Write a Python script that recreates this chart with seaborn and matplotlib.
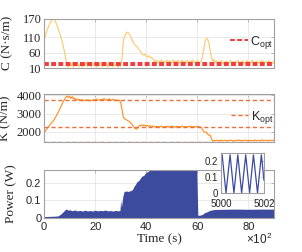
import numpy as np
import pandas as pd
import matplotlib
matplotlib.use("Agg")
import matplotlib.pyplot as plt
import seaborn as sns

# -----------------------------
# Data (time in units of 1e2 s)
# -----------------------------
# damping C, one sample every 0.5 (x1e2 s) from 0 to 90
c_values = [
    102, 112, 128, 140, 150, 158, 165, 169, 167, 160, 150, 138, 125, 112, 98, 82, 62, 40, 18,
    14, 26, 16, 28, 13, 24, 18, 29, 14, 22, 27, 13, 25, 17, 30, 15, 23, 28, 14, 26,
    19, 29, 13, 24, 16, 27, 21, 14, 28, 17, 25, 13, 29, 18, 23, 14, 27, 16, 24, 13, 26, 15,
    40, 95, 112, 120, 126, 124, 118, 110, 100, 92, 86, 82, 79, 72, 66, 60, 56, 52, 55, 48,
    46, 50, 44, 45, 40, 36,
    30, 36, 26, 33, 28, 37, 25, 32, 29, 36, 24, 34, 30, 27, 37, 26, 33, 29, 35, 25,
    31, 36, 27, 33, 24, 35, 29, 32, 26, 37, 28, 31, 25, 34, 30, 27, 32,
    45, 70, 95, 106, 104, 92, 70, 45, 32, 38, 28,
    34, 24, 31, 27, 35, 23, 30, 26, 33, 22, 29, 34, 25, 31, 23, 32, 28, 35, 24, 30,
    26, 33, 22, 29, 34, 25, 31, 27, 36, 23, 30, 26, 33, 24, 32, 28, 35, 23, 29, 31,
    25, 34, 27, 30, 24, 32,
]
c_opt = [27, 19]

# stiffness K, same sampling
k_values = [
    1960, 2050, 2150, 2250, 2330, 2420, 2500, 2580, 2680, 2800, 2930, 3060, 3200, 3360,
    3500, 3640, 3780, 3880, 3960,
    3880, 3950, 3820, 3930, 3790, 3850, 3740, 3800, 3720, 3780,
    3700, 3760, 3730, 3690, 3770, 3720, 3750, 3680, 3740, 3710,
    3770, 3730, 3800, 3720, 3760, 3740, 3790, 3750, 3820, 3730,
    3780, 3740, 3810, 3760, 3720, 3790, 3740, 3700, 3760, 3690,
    3740, 3600,
    3250, 2820, 2710, 2670, 2640, 2600, 2560, 2480, 2400, 2300,
    2200, 2150, 2180, 2290, 2360, 2330, 2390, 2340, 2370, 2310,
    2350, 2300, 2340, 2290, 2330, 2300,
    2270, 2310, 2260, 2300, 2280, 2320, 2250, 2290, 2270, 2310,
    2260, 2300, 2280, 2330, 2270, 2290, 2250, 2310, 2280, 2300,
    2260, 2320, 2290, 2270, 2310, 2250, 2300, 2280, 2320, 2270,
    2290, 2260, 2310, 2280, 2300, 2270, 2250,
    2150, 2010, 1980, 1990, 1900, 1820, 1830, 1650, 1500, 1540, 1520,
    1550, 1510, 1540, 1520, 1560, 1500, 1530, 1550, 1510, 1540,
    1520, 1560, 1530, 1500, 1540, 1520, 1550, 1510, 1570, 1530,
    1510, 1540, 1520, 1560, 1530, 1500, 1550, 1520, 1540, 1510,
    1560, 1530, 1520, 1550, 1510, 1540, 1570, 1520, 1530, 1550,
    1510, 1540, 1560, 1520, 1550, 1530,
]
k_opt = [3760, 2270, 1470]

# power envelope (peaks of the fast oscillation)
power_time = [0, 2, 4, 5.5, 6.5, 7.5, 8.3, 8.8, 9.3, 10, 11, 12, 13, 14, 15, 16, 17, 18,
              19, 20, 21, 22, 23, 24, 25, 26, 27, 28, 29, 29.7, 30.0, 30.3, 30.8, 31.3,
              32, 33, 34, 34.6, 35.2, 35.8, 36.4, 37, 37.6, 38.2, 39, 39.8, 40.6, 41.5,
              45, 50, 55, 59.8, 60.2, 61, 62, 62.8, 63.5, 64.5, 65.5, 67, 70, 75, 80, 85, 90]
power_peak = [0.008, 0.009, 0.010, 0.012, 0.022, 0.035, 0.048, 0.050, 0.044, 0.046, 0.041,
              0.045, 0.040, 0.043, 0.039, 0.044, 0.040, 0.042, 0.039, 0.044, 0.040, 0.043,
              0.041, 0.045, 0.040, 0.042, 0.039, 0.043, 0.040, 0.042, 0.100, 0.060, 0.120,
              0.148, 0.152, 0.150, 0.155, 0.160, 0.178, 0.190, 0.205, 0.210, 0.222, 0.235,
              0.240, 0.255, 0.262, 0.270, 0.270, 0.270, 0.270, 0.270, 0.015, 0.016, 0.020,
              0.030, 0.033, 0.040, 0.045, 0.048, 0.049, 0.050, 0.049, 0.050, 0.050]

# zoomed power trace (s)
inset_time = [5000.0, 5000.05, 5000.23, 5000.42, 5000.60, 5000.78, 5000.96, 5001.15,
              5001.33, 5001.51, 5001.70, 5001.88, 5002.0]
inset_power = [0.19, 0.24, 0.0, 0.24, 0.0, 0.24, 0.0, 0.24, 0.0, 0.24, 0.0, 0.24, 0.08]

x_ticks = [0, 20, 40, 60, 80]

# -----------------------------
# Style
# -----------------------------
sns.set_theme(style="white")
plt.rcParams['font.family'] = ['Liberation Serif', 'DejaVu Serif']
plt.rcParams['mathtext.fontset'] = 'custom'
plt.rcParams['mathtext.rm'] = 'Liberation Sans'
plt.rcParams['mathtext.it'] = 'Liberation Sans:italic'

spine_c = '#a0a0a0'
grid_c = '#e6e6e6'
c_color = '#ffc766'
copt_color = '#f03a3a'
k_color = '#ff8c1a'
kopt_color = '#ee6e3e'
p_color = '#3c4b9e'

df_c = pd.DataFrame({'t': 0.5 * np.arange(len(c_values)), 'C': c_values})
df_k = pd.DataFrame({'t': 0.5 * np.arange(len(k_values)), 'K': k_values})
df_in = pd.DataFrame({'t': inset_time, 'P': inset_power})

fig = plt.figure(figsize=(3.02, 2.52), dpi=100)
ax1 = fig.add_axes([0.146, 0.730, 0.761, 0.196])
ax2 = fig.add_axes([0.146, 0.435, 0.761, 0.191])
ax3 = fig.add_axes([0.146, 0.135, 0.761, 0.190])


def style_axes(ax):
    for s in ax.spines.values():
        s.set_color(spine_c)
        s.set_linewidth(0.8)
        s.set_visible(True)
    ax.grid(True, color=grid_c, linewidth=0.6)
    ax.set_axisbelow(True)
    ax.tick_params(direction='in', length=2, width=0.5, color=spine_c,
                   top=True, right=True, pad=2)
    ax.set_xlim(0, 90)
    ax.set_xticks(x_ticks)


# -----------------------------
# C panel
# -----------------------------
style_axes(ax1)
sns.lineplot(data=df_c, x='t', y='C', ax=ax1, color=c_color, linewidth=0.8)
for i, v in enumerate(c_opt):
    ax1.axhline(v, color=copt_color, linestyle=(0, (2.5, 1.2)), linewidth=1.4,
                label='C$_{\\rm opt}$' if i == 0 else None)
ax1.set_ylim(10, 170)
ax1.set_yticks([10, 60, 110, 170])
ax1.set_xticklabels([])
ax1.set_xlabel('')
ax1.set_ylabel('C (N·s/m)', fontsize=9.5)
ax1.yaxis.set_label_coords(-0.135, 0.5)
ax1.tick_params(axis='y', labelsize=9)
ax1.legend(loc='center right', bbox_to_anchor=(1.02, 0.52), frameon=False,
           handlelength=1.4, handletextpad=0.2, borderaxespad=0,
           prop={'family': 'Liberation Sans', 'size': 9})

# -----------------------------
# K panel
# -----------------------------
style_axes(ax2)
sns.lineplot(data=df_k, x='t', y='K', ax=ax2, color=k_color, linewidth=0.8)
for i, v in enumerate(k_opt):
    ax2.axhline(v, color=kopt_color, linestyle=(0, (3, 2)), linewidth=1.0,
                label='K$_{\\rm opt}$' if i == 0 else None)
ax2.set_ylim(1430, 4055)
ax2.set_yticks([2000, 3000, 4000])
ax2.set_xticklabels([])
ax2.set_xlabel('')
ax2.set_ylabel('K (N/m)', fontsize=9.5)
ax2.yaxis.set_label_coords(-0.142, 0.5)
ax2.tick_params(axis='y', labelsize=9)
ax2.legend(loc='center right', bbox_to_anchor=(1.02, 0.52), frameon=False,
           handlelength=1.4, handletextpad=0.2, borderaxespad=0,
           prop={'family': 'Liberation Sans', 'size': 9})

# -----------------------------
# Power panel
# -----------------------------
style_axes(ax3)
ax3.fill_between(power_time, 0, power_peak, color=p_color, linewidth=0)
ax3.set_ylim(0, 0.27)
ax3.set_yticks([0, 0.1, 0.2])
ax3.set_yticklabels(['0', '0.1', '0.2'])
ax3.set_xticklabels([str(v) for v in x_ticks])
for lab in ax3.get_xticklabels() + ax3.get_yticklabels():
    lab.set_family('Liberation Sans')
    lab.set_fontsize(8)
ax3.tick_params(axis='x', pad=3)
ax3.set_xlabel('Time (s)', fontsize=9.5, labelpad=1)
ax3.set_ylabel('Power (W)', fontsize=9.5)
ax3.yaxis.set_label_coords(-0.115, 0.5)
fig.text(0.90, 0.030, '$\\times10^{2}$', ha='right', va='baseline', fontsize=8.5)

# inset
axi = fig.add_axes([0.732, 0.234, 0.142, 0.158])
for s in axi.spines.values():
    s.set_color(spine_c)
    s.set_linewidth(0.8)
    s.set_visible(True)
axi.set_facecolor('white')
sns.lineplot(data=df_in, x='t', y='P', ax=axi, color=p_color, linewidth=0.9)
axi.set_xlim(5000, 5002)
axi.set_ylim(0, 0.25)
axi.set_xticks([5000, 5002])
axi.set_yticks([0, 0.1, 0.2])
axi.set_xticklabels(['5000', '5002'])
axi.set_yticklabels(['0', '0.1', '0.2'])
axi.set_xlabel('')
axi.set_ylabel('')
axi.tick_params(direction='in', length=2, width=0.5, color=spine_c,
                top=True, right=True)
axi.tick_params(axis='x', pad=4.5)
axi.tick_params(axis='y', pad=2.5)
for lab in axi.get_xticklabels() + axi.get_yticklabels():
    lab.set_family('Liberation Sans')
    lab.set_fontsize(7)

fig.savefig('out.png', dpi=100)
